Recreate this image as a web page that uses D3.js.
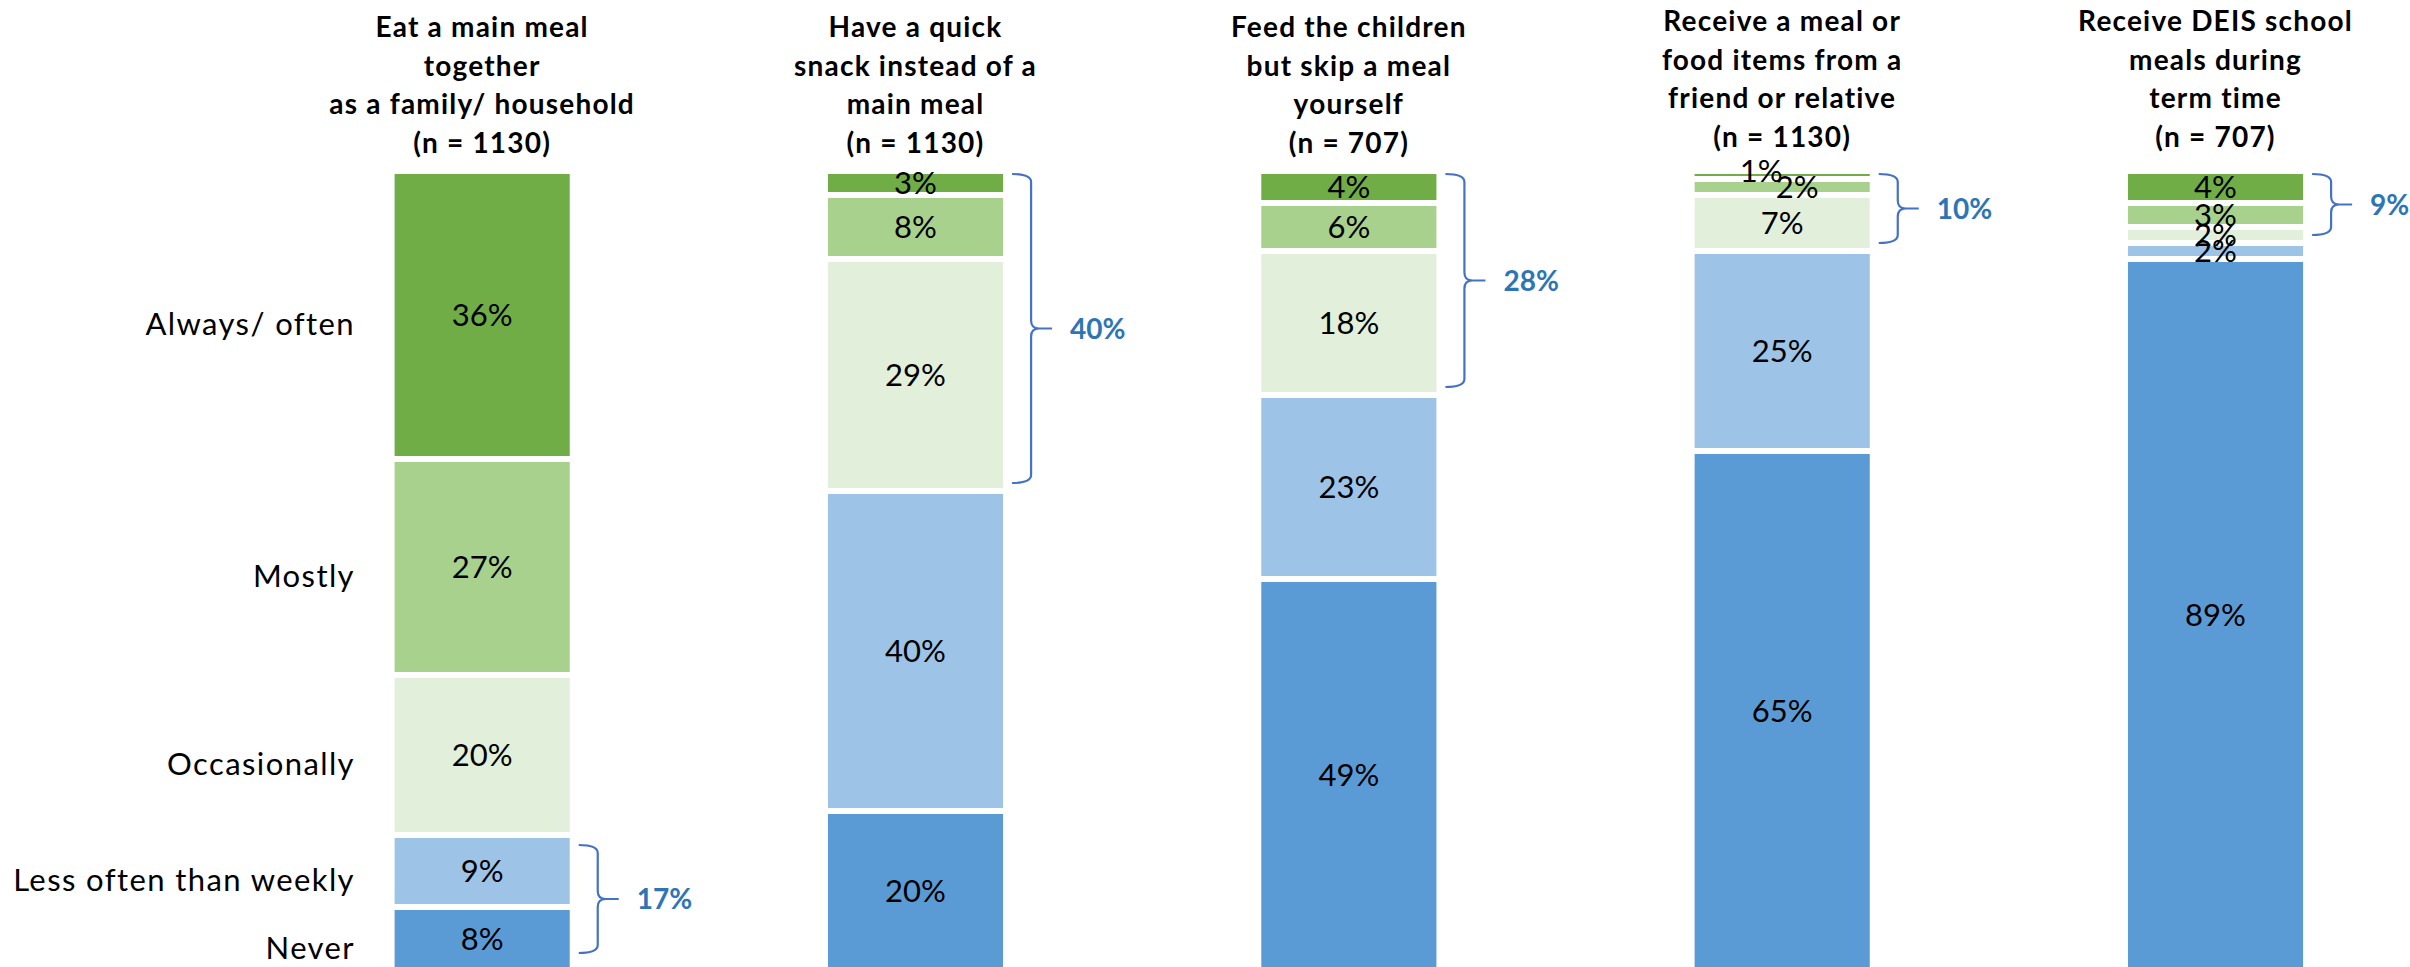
<!DOCTYPE html>
<html>
<head>
<meta charset="utf-8">
<script src="https://cdn.jsdelivr.net/npm/d3@7"></script>
<style>
  body { margin: 0; background: #fff; }
  svg { display: block; }
</style>
</head>
<body>
<svg id="chart" width="2410" height="967"></svg>
<script>
// Survey items (wrapped heading lines) and response shares in percent
const questions = [
  ["Eat a main meal", "together", "as a family/ household", "(n = 1130)"],
  ["Have a quick", "snack instead of a", "main meal", "(n = 1130)"],
  ["Feed the children", "but skip a meal", "yourself", "(n = 707)"],
  ["Receive a meal or", "food items from a", "friend or relative", "(n = 1130)"],
  ["Receive DEIS school", "meals during", "term time", "(n = 707)"]
];
const frequencies = ["Always/ often", "Mostly", "Occasionally", "Less often than weekly", "Never"];

const alwaysOften  = [36, 3, 4, 1, 4];
const mostly       = [27, 8, 6, 2, 3];
const occasionally = [20, 29, 18, 7, 2];
const lessOften    = [9, 40, 23, 25, 2];
const never        = [8, 20, 49, 65, 89];

// Frequencies grouped under a bracket with their combined share, per item
const bracketGroups = [
  ["Less often than weekly", "Never"],
  ["Always/ often", "Mostly", "Occasionally"],
  ["Always/ often", "Mostly", "Occasionally"],
  ["Always/ often", "Mostly", "Occasionally"],
  ["Always/ often", "Mostly", "Occasionally"]
];

const seriesValues = {
  "Always/ often": alwaysOften,
  "Mostly": mostly,
  "Occasionally": occasionally,
  "Less often than weekly": lessOften,
  "Never": never
};

const colors = {
  "Always/ often": "#70AD47",
  "Mostly": "#A9D18E",
  "Occasionally": "#E2EFDA",
  "Less often than weekly": "#9DC3E6",
  "Never": "#5B9BD5"
};

const rows = questions.map((q, i) => {
  const r = { id: i };
  frequencies.forEach(f => r[f] = seriesValues[f][i]);
  return r;
});

// stacked bottom-up: Never at the base, Always/ often on top
const stackKeys = frequencies.slice().reverse();
const stacked = d3.stack().keys(stackKeys)(rows);

const svg = d3.select("#chart");

const x = d3.scaleBand()
  .domain(rows.map(r => r.id))
  .range([265.5, 2432.2])
  .paddingInner(0.582)
  .paddingOuter(0.291);

const y = d3.scaleLinear().domain([0, 100]).range([971, 171]);

const FONT = "Lato, 'Open Sans', 'DejaVu Sans', sans-serif";
const gap = 6;

// segments
const layers = svg.append("g").selectAll("g")
  .data(stacked)
  .join("g")
  .attr("fill", d => colors[d.key]);

layers.selectAll("rect")
  .data(d => d)
  .join("rect")
  .attr("x", d => x(d.data.id))
  .attr("width", x.bandwidth())
  .attr("y", d => y(d[1]))
  .attr("height", d => y(d[0]) - y(d[1]))
  .attr("stroke", "#fff")
  .attr("stroke-width", gap);

// value labels (a couple of crowded ones nudged aside)
const nudge = {
  "3|Always/ often": [-21, -4],
  "3|Mostly": [15, 0]
};
const labelG = svg.append("g")
  .attr("font-family", FONT)
  .attr("font-size", 31)
  .attr("fill", "#000")
  .attr("text-anchor", "middle");

stacked.forEach(layer => {
  layer.forEach(p => {
    const n = nudge[p.data.id + "|" + layer.key] || [0, 0];
    labelG.append("text")
      .attr("x", x(p.data.id) + x.bandwidth() / 2 + n[0])
      .attr("y", (y(p[0]) + y(p[1])) / 2 + n[1])
      .attr("dy", "0.36em")
      .text(d3.format("d")(p[1] - p[0]) + "%");
  });
});

// frequency labels beside the first bar
const firstRow = stacked.map(layer => ({ key: layer.key, p: layer[0] }));
svg.append("g")
  .attr("font-family", FONT)
  .attr("font-size", 31)
  .attr("letter-spacing", 1.4)
  .attr("fill", "#000")
  .attr("text-anchor", "end")
  .selectAll("text")
  .data(firstRow)
  .join("text")
  .attr("x", 355)
  .attr("y", d => (y(d.p[0]) + y(d.p[1])) / 2 + 9)
  .attr("dy", "0.36em")
  .text(d => d.key);

// item headings
const titleShift = [0, 0, 0, -6, -6];
const titleG = svg.append("g")
  .attr("font-family", FONT)
  .attr("font-size", 28)
  .attr("font-weight", "bold")
  .attr("letter-spacing", 1.2)
  .attr("fill", "#000")
  .attr("text-anchor", "middle");
questions.forEach((lines, i) => {
  const cx = x(i) + x.bandwidth() / 2;
  const lastBase = 153 + titleShift[i];
  lines.forEach((ln, k) => {
    titleG.append("text")
      .attr("x", cx)
      .attr("y", lastBase - (lines.length - 1 - k) * 38.6)
      .text(ln);
  });
});

// curly brackets with combined shares
const braceG = svg.append("g");
bracketGroups.forEach((grp, i) => {
  const parts = grp.map(f => stacked.find(l => l.key === f)[i]);
  const hi = d3.max(parts, p => p[1]);
  const lo = d3.min(parts, p => p[0]);
  const total = d3.sum(grp, f => seriesValues[f][i]);

  const yTop = y(hi) + (hi >= 100 ? 3 : 10);
  const yBot = y(lo) - (lo <= 0 ? 18 : 8);
  const yMid = (yTop + yBot) / 2;
  const edge = x(i) + x.bandwidth() - gap / 2;
  const xe = edge + 9, xv = edge + 28, xt = edge + 49;
  const r = 8;

  const path = [
    `M${xe},${yTop}`,
    `Q${xv},${yTop} ${xv},${yTop + r}`,
    `L${xv},${yMid - r}`,
    `Q${xv},${yMid} ${xv + r},${yMid}`,
    `L${xt},${yMid}`,
    `L${xv + r},${yMid}`,
    `Q${xv},${yMid} ${xv},${yMid + r}`,
    `L${xv},${yBot - r}`,
    `Q${xv},${yBot} ${xe},${yBot}`
  ].join(" ");

  braceG.append("path")
    .attr("d", path)
    .attr("fill", "none")
    .attr("stroke", "#4472C4")
    .attr("stroke-width", 2.2);

  braceG.append("text")
    .attr("x", edge + 67)
    .attr("y", yMid)
    .attr("dy", "0.36em")
    .attr("font-family", FONT)
    .attr("font-size", 28)
    .attr("font-weight", "bold")
    .attr("fill", "#2E75B6")
    .text(total + "%");
});
</script>
</body>
</html>
